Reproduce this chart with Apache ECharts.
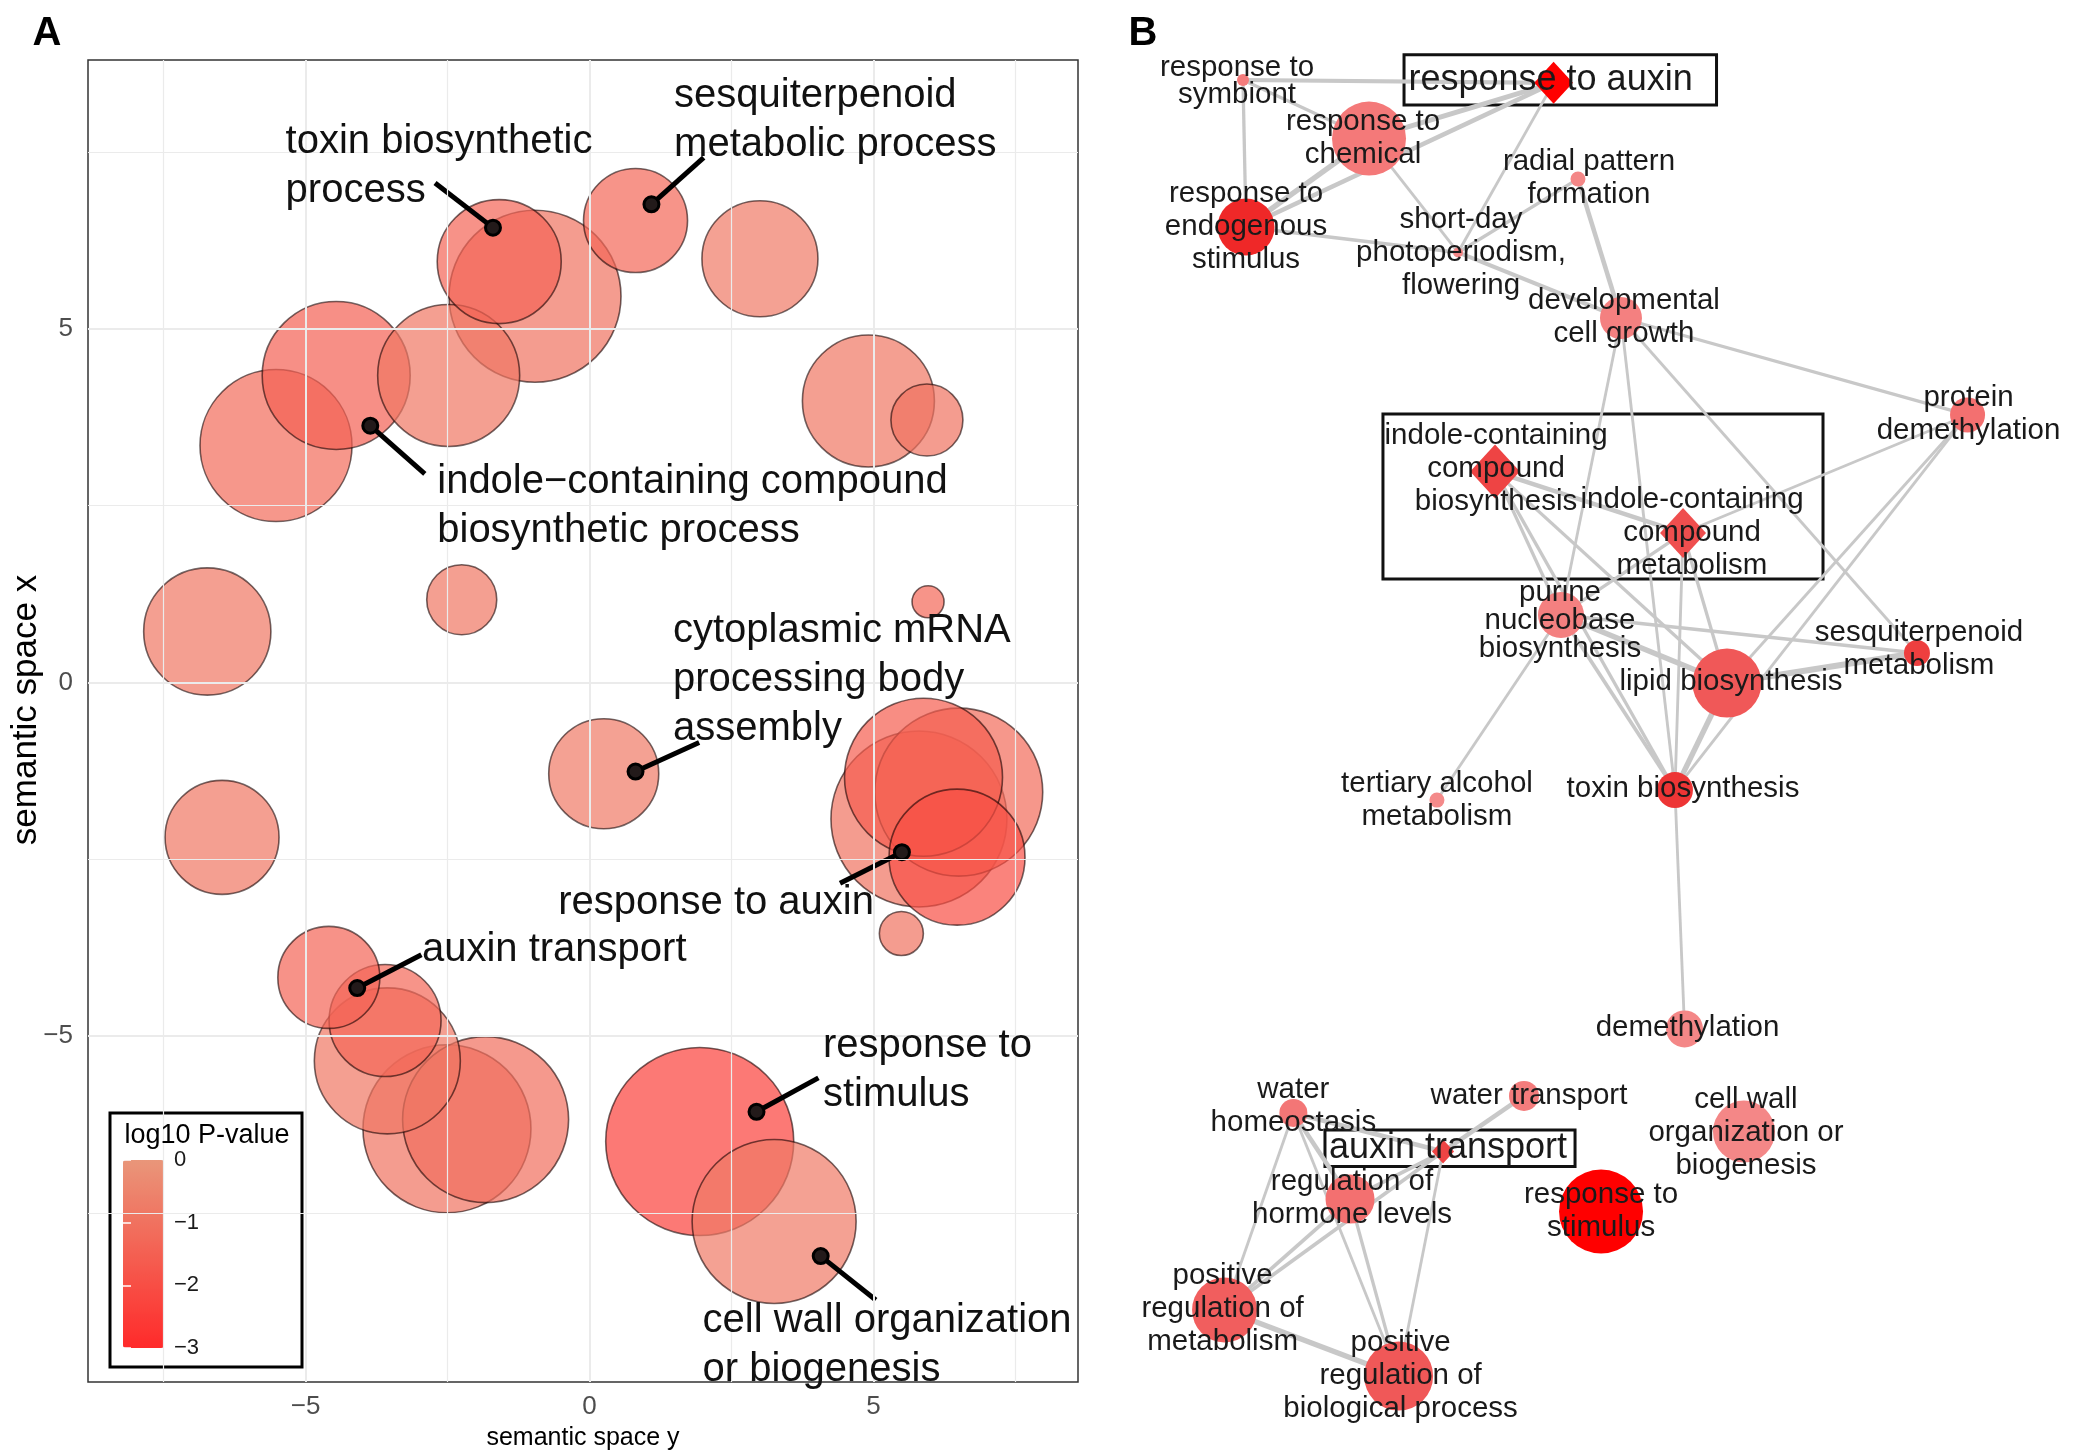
<!DOCTYPE html>
<html><head><meta charset="utf-8">
<script src="https://cdn.jsdelivr.net/npm/echarts/dist/echarts.min.js"></script>
<style>html,body{margin:0;padding:0;background:#fff}#c{width:2080px;height:1456px}</style>
</head><body><div id="c"></div>
<script>
// ---------------- Panel A : REVIGO semantic-space bubbles ----------------
const termX = [-1.59, -0.96, 0.81, 3.00, -4.46, -2.48, -5.52, 4.91, 5.94, -6.73, -2.25, 5.96, 0.25, -6.47, 5.88, 6.50, 5.80, 6.47, 5.49, -4.59, -3.60, -3.56, -2.51, -1.83, 1.94, 3.25];
const termY = [5.95, 5.46, 6.53, 5.99, 4.34, 4.34, 3.35, 3.98, 3.71, 0.72, 1.17, 1.14, -1.29, -2.19, -1.34, -1.55, -1.93, -2.47, -3.55, -4.17, -4.78, -5.35, -6.31, -6.18, -6.49, -7.62];
const termLogSize = [3.10, 4.30, 2.60, 2.90, 3.70, 3.55, 3.80, 3.30, 1.80, 3.18, 1.75, 0.80, 2.75, 2.85, 3.95, 4.20, 4.40, 3.40, 1.10, 2.55, 2.80, 3.65, 4.20, 4.15, 4.70, 4.10];
const termLogP = [-1.4, -1.0, -1.3, -0.8, -1.5, -0.9, -1.2, -0.9, -1.0, -0.9, -0.9, -1.3, -0.8, -0.9, -1.6, -1.2, -1.0, -2.0, -1.0, -1.4, -1.3, -0.9, -1.0, -1.1, -2.4, -0.8];

const labelText = ['toxin biosynthetic\nprocess', 'sesquiterpenoid\nmetabolic process', 'indole\u2212containing compound\nbiosynthetic process', 'cytoplasmic mRNA\nprocessing body\nassembly', 'response to auxin', 'auxin transport', 'response to\nstimulus', 'cell wall organization\nor biogenesis'];
const labelDotX = [-1.70, 1.09, -3.86, 0.81, 5.50, -4.09, 2.94, 4.07];
const labelDotY = [6.43, 6.76, 3.63, -1.26, -2.40, -4.32, -6.07, -8.11];
const labelLeadX = [-2.72, 2.01, -2.90, 1.93, 4.41, -2.96, 4.03, 5.04];
const labelLeadY = [7.06, 7.42, 2.95, -0.85, -2.84, -3.85, -5.59, -8.73];
const labelTextX = [-5.36, 1.48, -2.69, 1.46, -0.56, -2.96, 4.10, 1.98];
const labelTextY = [7.37, 8.01, 2.56, 0.11, -3.05, -3.71, -5.42, -9.30];

const axisTicksA = [-5, 0, 5];
const gridMajorA = [-5, 0, 5];
const gridMinorA = [-7.5, -2.5, 2.5, 7.5];
const legendTicks = [0, -1, -2, -3];

// ---------------- Panel B : network ----------------
const nodeNames = ['response to\nsymbiont', 'response to auxin', 'response to\nchemical', 'response to\nendogenous\nstimulus', 'radial pattern\nformation', 'short-day\nphotoperiodism,\nflowering', 'developmental\ncell growth', 'protein\ndemethylation', 'indole-containing\ncompound\nbiosynthesis', 'indole-containing\ncompound\nmetabolism', 'purine\nnucleobase\nbiosynthesis', 'lipid biosynthesis', 'sesquiterpenoid\nmetabolism', 'tertiary alcohol\nmetabolism', 'toxin biosynthesis', 'demethylation', 'water\nhomeostasis', 'water transport', 'auxin transport', 'cell wall\norganization or\nbiogenesis', 'regulation of\nhormone levels', 'response to\nstimulus', 'positive\nregulation of\nmetabolism', 'positive\nregulation of\nbiological process'];
const nodeX = [11.80, 44.53, 25.08, 12.12, 47.10, 34.46, 51.63, 88.15, 38.36, 58.17, 45.31, 62.80, 82.82, 32.24, 57.32, 58.33, 17.11, 41.41, 32.88, 64.59, 23.08, 49.53, 9.86, 28.20];
const nodeY = [5.49, 5.69, 9.52, 15.59, 12.29, 17.34, 21.84, 28.50, 32.39, 36.61, 42.24, 46.91, 44.85, 54.95, 54.26, 70.67, 76.44, 75.27, 79.09, 77.72, 82.35, 83.21, 89.97, 94.51];
const nodeSize = [12, 42, 74, 57, 15, 10, 42, 35, 54, 50, 46, 69, 26, 15, 36, 37, 28, 30, 24, 62, 49, 84, 65, 69];
const nodeLogP = [-1.0, -3.0, -1.05, -2.5, -0.7, -0.7, -0.9, -1.2, -2.0, -1.8, -0.9, -1.6, -2.1, -0.6, -2.3, -0.7, -1.1, -1.0, -2.0, -0.7, -1.2, -3.0, -1.5, -1.6];
const nodeSelected = [false, true, false, false, false, false, false, false, true, true, false, false, false, false, false, false, false, false, true, false, false, false, false, false];
const nodeHighlighted = [false, true, false, false, false, false, false, false, false, false, false, false, false, false, false, false, false, false, true, false, false, false, false, false];

const edgeSource = [0, 0, 0, 1, 1, 1, 2, 2, 3, 5, 5, 4, 6, 6, 6, 6, 7, 7, 7, 8, 8, 8, 8, 9, 9, 9, 10, 10, 10, 10, 11, 11, 14, 16, 16, 16, 16, 17, 18, 18, 18, 20, 20, 22];
const edgeTarget = [1, 2, 3, 2, 3, 5, 3, 5, 5, 4, 6, 6, 7, 10, 14, 12, 9, 11, 14, 9, 10, 11, 14, 10, 11, 14, 11, 14, 12, 13, 12, 14, 15, 18, 20, 22, 23, 18, 20, 22, 23, 22, 23, 23];
const edgeSimilarity = [0.58, 0.42, 0.42, 0.75, 0.67, 0.33, 0.83, 0.33, 0.5, 0.42, 0.58, 0.67, 0.42, 0.33, 0.33, 0.33, 0.33, 0.33, 0.33, 0.67, 0.42, 0.42, 0.42, 0.42, 0.42, 0.33, 0.83, 0.5, 0.5, 0.33, 1.0, 0.83, 0.33, 0.67, 0.67, 0.33, 0.33, 0.67, 0.5, 0.5, 0.33, 0.5, 0.42, 0.83];

const boxX1 = [28.77, 26.55, 20.44];
const boxY1 = [3.76, 28.43, 77.61];
const boxX2 = [61.70, 72.92, 46.79];
const boxY2 = [7.21, 39.77, 80.12];

// ---------------- styling helpers ----------------
const FONT = '"Liberation Sans", Arial, Helvetica, sans-serif';
const minus = v => String(v).replace('-', '\u2212');
const labelNudge = [[-6,1],[-3,-3],[-6,0],[0,0],[11,-1],[3,0],[3,-1],[1,-1],[1,-3],[9,0],[-1,6],[4,-1],[2,-4],[0,0],[8,-1],[3,-1],[0,-7],[5,0],[5,-3],[2,1],[2,-1],[0,0],[-2,-1],[2,0]];
const labelLineHeight = {0:27, 10:28};

function hexToRgb(h){return [parseInt(h.slice(1,3),16),parseInt(h.slice(3,5),16),parseInt(h.slice(5,7),16)];}
const nodeRamp = [[-3,'#FF0000'],[-2.4,'#EC3030'],[-1.6,'#F05858'],[-1.0,'#F47C7C'],[0,'#F5A0A0']];
function nodeColor(v){
  for(let i=0;i<nodeRamp.length-1;i++){
    const [a,ca]=nodeRamp[i],[b,cb]=nodeRamp[i+1];
    if(v>=a && v<=b){
      const t=(v-a)/(b-a), A=hexToRgb(ca), B=hexToRgb(cb);
      return 'rgb('+A.map((c,k)=>Math.round(c+(B[k]-c)*t)).join(',')+')';
    }
  }
  return v<-3?'#FF0000':'#F5A0A0';
}

const bubbleData = termX.map((x,i)=>[x, termY[i], termLogSize[i], termLogP[i]])
  .sort((a,b)=>b[2]-a[2]);

const chart = echarts.init(document.getElementById('c'), null, {renderer:'canvas'});

const gridLineData = [
  ...gridMinorA.map(v=>({xAxis:v, lineStyle:{width:1.2}})),
  ...gridMinorA.map(v=>({yAxis:v, lineStyle:{width:1.2}})),
  ...gridMajorA.map(v=>({xAxis:v, lineStyle:{width:2}})),
  ...gridMajorA.map(v=>({yAxis:v, lineStyle:{width:2}}))
];

const option = {
  backgroundColor:'#ffffff',
  animation:false,
  textStyle:{fontFamily:FONT},
  grid:[
    {left:88, top:60, width:990, height:1326, show:true, borderColor:'#333333', borderWidth:1.5, backgroundColor:'#ffffff'},
    {left:123, top:1160, width:41, height:188, show:false},
    {left:1131, top:0, width:949, height:1456, show:false}
  ],
  xAxis:[
    {gridIndex:0, type:'value', min:-8.83, max:8.60,
     axisLine:{show:false}, splitLine:{show:false},
     axisTick:{show:true, length:7, lineStyle:{color:'#333', width:1.5}, customValues:axisTicksA},
     axisLabel:{fontSize:26, color:'#4d4d4d', margin:12, fontFamily:FONT, customValues:axisTicksA,
       formatter:v=> (Math.abs(v%5)<1e-9 ? minus(v) : '')},
     name:'semantic space y', nameLocation:'middle', nameGap:44,
     nameTextStyle:{fontSize:25, color:'#000', fontFamily:FONT}},
    {gridIndex:1, type:'value', min:0, max:1, show:false},
    {gridIndex:2, type:'value', min:0, max:100, show:false}
  ],
  yAxis:[
    {gridIndex:0, type:'value', min:-9.89, max:8.80,
     axisLine:{show:false}, splitLine:{show:false},
     axisTick:{show:true, length:7, lineStyle:{color:'#333', width:1.5}, customValues:axisTicksA},
     axisLabel:{fontSize:26, color:'#4d4d4d', margin:15, fontFamily:FONT, customValues:axisTicksA,
       formatter:v=> (Math.abs(v%5)<1e-9 ? minus(v) : '')}},
    {gridIndex:1, type:'value', min:-3, max:0, interval:1, position:'right', z:10,
     axisLine:{show:false}, splitLine:{show:false},
     axisTick:{show:true, inside:true, length:8, lineStyle:{color:'#ffffff', width:1.5}, customValues:legendTicks},
     axisLabel:{fontSize:22, color:'#1a1a1a', margin:10, fontFamily:FONT, customValues:legendTicks, formatter:v=>minus(v)}},
    {gridIndex:1, type:'value', min:-3, max:0, interval:1, position:'left', z:10,
     axisLine:{show:false}, splitLine:{show:false},
     axisTick:{show:true, inside:true, length:8, lineStyle:{color:'#ffffff', width:1.5}, customValues:legendTicks},
     axisLabel:{show:false}},
    {gridIndex:2, type:'value', min:0, max:100, inverse:true, show:false}
  ],
  visualMap:[{
    type:'continuous', min:-3, max:0, dimension:3, seriesIndex:1,
    calculable:false, hoverLink:false, orient:'vertical',
    inRange:{color:['#FF2A2A','#E9967A']},
    left:123, top:1160, itemWidth:41, itemHeight:188, padding:0, text:null, z:4
  }],
  graphic:[
    {type:'rect', z:3, shape:{x:110, y:1113, width:192, height:254},
     style:{fill:'#ffffff', stroke:'#000000', lineWidth:3}},
    {type:'text', z:12, x:207, y:1136,
     style:{text:'log10 P-value', font:'27px '+FONT, fill:'#000', align:'center', verticalAlign:'middle', textAlign:'center', textVerticalAlign:'middle'}},
    {type:'text', z:12, x:26, y:710, rotation:Math.PI/2,
     style:{text:'semantic space x', font:'35px '+FONT, fill:'#000', align:'center', verticalAlign:'middle', textAlign:'center', textVerticalAlign:'middle'}},
    {type:'text', z:12, x:47, y:34,
     style:{text:'A', font:'bold 40px '+FONT, fill:'#000', align:'center', verticalAlign:'middle', textAlign:'center', textVerticalAlign:'middle'}},
    {type:'text', z:12, x:1143, y:34,
     style:{text:'B', font:'bold 40px '+FONT, fill:'#000', align:'center', verticalAlign:'middle', textAlign:'center', textVerticalAlign:'middle'}}
  ],
  series:[
    { // grid lines of panel A
      type:'scatter', xAxisIndex:0, yAxisIndex:0, data:[], z:1, silent:true,
      markLine:{silent:true, symbol:'none', animation:false, label:{show:false},
        lineStyle:{color:'#ebebeb', type:'solid'}, data:gridLineData}
    },
    { // bubbles
      type:'scatter', xAxisIndex:0, yAxisIndex:0, z:2, silent:true,
      data:bubbleData,
      symbolSize:v=>v[2]*40,
      itemStyle:{opacity:0.7, borderColor:'rgba(20,0,0,0.85)', borderWidth:1.6}
    },
    { // leader lines
      type:'lines', coordinateSystem:'cartesian2d', xAxisIndex:0, yAxisIndex:0, z:3, silent:true,
      lineStyle:{color:'#000', width:5, opacity:1, curveness:0},
      data:labelDotX.map((x,i)=>({coords:[[x,labelDotY[i]],[labelLeadX[i],labelLeadY[i]]]}))
    },
    { // label dots
      type:'scatter', xAxisIndex:0, yAxisIndex:0, z:4, silent:true,
      data:labelDotX.map((x,i)=>[x,labelDotY[i]]),
      symbolSize:15,
      itemStyle:{color:'#231a1a', borderColor:'#000', borderWidth:3, opacity:1}
    },
    { // label texts
      type:'scatter', xAxisIndex:0, yAxisIndex:0, z:5, silent:true,
      data:labelTextX.map((x,i)=>({value:[x,labelTextY[i]], name:labelText[i]})),
      symbolSize:1, itemStyle:{color:'rgba(0,0,0,0)', opacity:1},
      label:{show:true, position:'right', distance:0, offset:[0,5], formatter:p=>p.name, opacity:1,
        fontSize:40, lineHeight:49, color:'#111', fontFamily:FONT, align:'left', verticalAlign:'middle'}
    },
    { // network
      type:'graph', coordinateSystem:'cartesian2d', xAxisIndex:2, yAxisIndex:3, layout:'none', roam:false, z:2, silent:true,
      data:nodeNames.map((n,i)=>({
        name:n, value:[nodeX[i], nodeY[i]],
        symbol: nodeSelected[i] ? 'diamond' : 'circle',
        symbolSize: nodeSelected[i] ? [nodeSize[i]*0.92, nodeSize[i]] : nodeSize[i],
        itemStyle:{color:nodeColor(nodeLogP[i]), opacity:1},
        label:{offset:labelNudge[i], fontSize: nodeHighlighted[i] ? 36 : 29.5, lineHeight: labelLineHeight[i] || 33, opacity:1}
      })),
      links:edgeSource.map((s,i)=>({source:nodeNames[s], target:nodeNames[edgeTarget[i]], lineStyle:{width:1.2+edgeSimilarity[i]*5}})),
      lineStyle:{color:'#c8c8c8', opacity:1, curveness:0},
      label:{show:true, position:'inside', color:'#1a1a1a', fontFamily:FONT, lineHeight:33, align:'center',
        formatter:p=>p.name},
      emphasis:{disabled:true}
    },
    { // highlight boxes
      type:'scatter', xAxisIndex:2, yAxisIndex:3, data:[], z:3, silent:true,
      markArea:{silent:true, label:{show:false},
        itemStyle:{color:'rgba(0,0,0,0)', borderColor:'#111', borderWidth:3},
        data:boxX1.map((x,i)=>[{coord:[x,boxY1[i]]},{coord:[boxX2[i],boxY2[i]]}])}
    }
  ]
};
chart.setOption(option);
</script>
</body></html>
